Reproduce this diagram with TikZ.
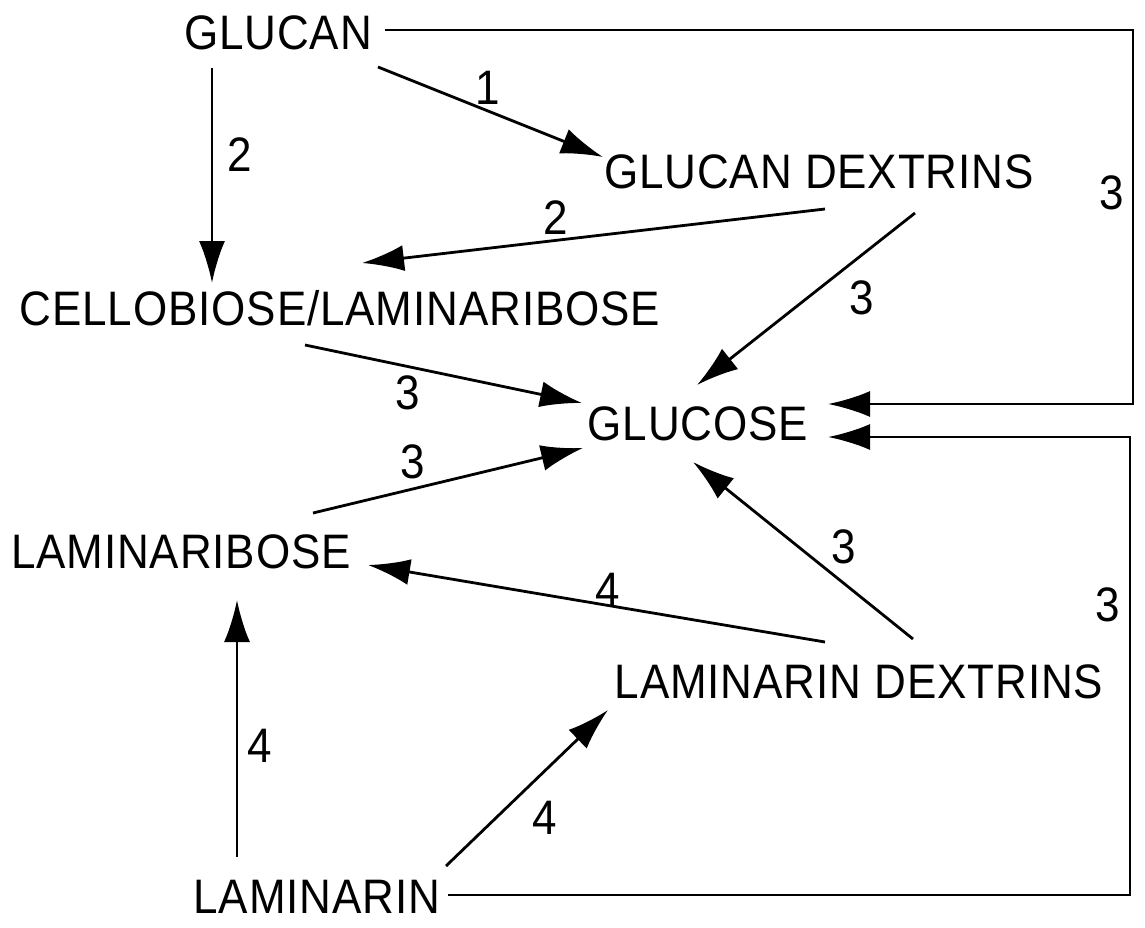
\documentclass[tikz,border=0pt]{standalone}
\usepackage{fontspec}
\usepackage{graphicx}
\setmainfont[LetterSpace=2]{Liberation Sans}
\usetikzlibrary{arrows.meta}
\newcommand\tallt[1]{\scalebox{1}[1.1]{#1}}
\begin{document}
\begin{tikzpicture}[x=1pt,y=-1pt,
  lbl/.style={inner sep=0pt,font=\fontsize{44}{52}\selectfont},
  arr/.style={line width=2.8pt,-{Latex[length=42pt,width=26pt]}}]
\useasboundingbox (0,0) rectangle (1145,928);
\node[lbl] (glucan) at (278,33) {\tallt{GLUCAN}};
\node[lbl] (gd) at (819,172) {\tallt{GLUCAN DEXTRINS}};
\node[lbl] (cl) at (340,308) {\tallt{CELLOBIOSE/LAMINARIBOSE}};
\node[lbl] (glucose) at (698,424) {\tallt{GLUCOSE}};
\node[lbl] (lb) at (181,552) {\tallt{LAMINARIBOSE}};
\node[lbl] (ld) at (859,682) {\tallt{LAMINARIN DEXTRINS}};
\node[lbl] (lm) at (317,897) {\tallt{LAMINARIN}};
% connectors
\draw[arr] ([shift={(100,34)}]glucan.center) -- ([shift={(-216,-15)}]gd.center);
\draw[arr] ([shift={(-66,35)}]glucan.center) -- ([shift={(-128,-25)}]cl.center);
\draw[arr] ([shift={(6,37)}]gd.center) -- ([shift={(22,-45)}]cl.center);
\draw[arr] ([shift={(96,41)}]gd.center) -- ([shift={(-1,-39)}]glucose.center);
\draw[arr] ([shift={(-35,37)}]cl.center) -- ([shift={(-116,-21)}]glucose.center);
\draw[arr] ([shift={(132,-39)}]lb.center) -- ([shift={(-115,24)}]glucose.center);
\draw[arr] ([shift={(54,-43)}]ld.center) -- ([shift={(-5,38)}]glucose.center);
\draw[arr] ([shift={(-34,-40)}]ld.center) -- ([shift={(187,13)}]lb.center);
\draw[arr] ([shift={(-80,-40)}]lm.center) -- ([shift={(56,48)}]lb.center);
\draw[arr] ([shift={(129,-31)}]lm.center) -- ([shift={(-251,28)}]ld.center);
\draw[arr] ([shift={(107,-3)}]glucan.center) -- ++(748,0) |- ([shift={(130,-20)}]glucose.center);
\draw[arr] ([shift={(131,-2)}]lm.center) -- ++(682,0) |- ([shift={(130,13)}]glucose.center);
% labels
\node[lbl] (n1) at (488,88) {\tallt{1}};
\node[lbl] (n2a) at (240,155) {\tallt{2}};
\node[lbl] (n2b) at (556,218) {\tallt{2}};
\node[lbl] (n3a) at (862,298) {\tallt{3}};
\node[lbl] (n3b) at (408,393) {\tallt{3}};
\node[lbl] (n3c) at (413,462) {\tallt{3}};
\node[lbl] (n3d) at (844,547) {\tallt{3}};
\node[lbl] (n3e) at (1112,193) {\tallt{3}};
\node[lbl] (n3f) at (1108,605) {\tallt{3}};
\node[lbl] (n4a) at (608,590) {\tallt{4}};
\node[lbl] (n4b) at (260,746) {\tallt{4}};
\node[lbl] (n4c) at (545,818) {\tallt{4}};
\end{tikzpicture}
\end{document}
